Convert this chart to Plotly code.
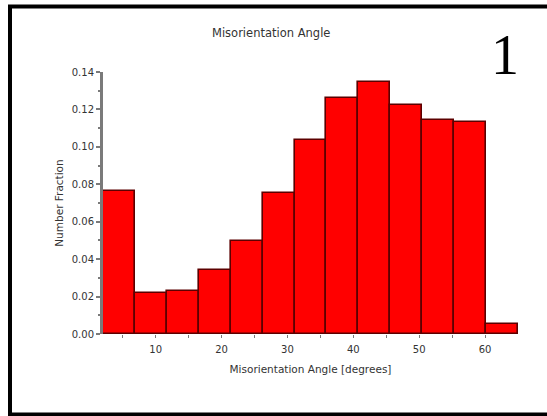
import plotly.graph_objects as go

# Histogram of grain-boundary misorientation angles: 13 bins from 2 to 65 degrees
bin_start = 2.0
bin_end = 65.0
n_bins = 13
number_fraction = [0.0765, 0.0217, 0.0231, 0.0342, 0.0496, 0.0751, 0.1035,
                   0.1263, 0.1345, 0.1224, 0.1142, 0.1131, 0.0052]
x_ticks = [10, 20, 30, 40, 50, 60]
y_ticks = [0.00, 0.02, 0.04, 0.06, 0.08, 0.10, 0.12, 0.14]

bin_width = (bin_end - bin_start) / n_bins
bin_centers = [bin_start + bin_width * (i + 0.5) for i in range(n_bins)]

W, H = 547, 416
L, R, T, B = 103, 29, 72, 82
plot_w = W - L - R
plot_h = H - T - B


def px(xp):
    return (xp - L) / plot_w


def py(yp):
    return (H - B - yp) / plot_h


font_family = "DejaVu Sans, Verdana, sans-serif"
axis_grey = "#7a7a7a"
text_grey = "#333333"

fig = go.Figure()
fig.add_trace(go.Bar(
    x=bin_centers,
    y=number_fraction,
    width=bin_width,
    marker=dict(color="#ff0000", line=dict(color="#5c0000", width=1.6)),
    hoverinfo="x+y",
))

fig.update_layout(
    width=W, height=H,
    margin=dict(l=L, r=R, t=T, b=B),
    paper_bgcolor="white",
    plot_bgcolor="rgba(0,0,0,0)",
    showlegend=False,
    bargap=0,
    font=dict(family=font_family, size=10, color=text_grey),
    xaxis=dict(
        range=[bin_start, bin_end],
        tickvals=x_ticks,
        ticks="outside", ticklen=3, tickwidth=1, tickcolor=axis_grey,
        minor=dict(tickvals=[5, 15, 25, 35, 45, 55], ticks="outside",
                   ticklen=3, tickwidth=1, tickcolor=axis_grey),
        showgrid=False, zeroline=False,
        showline=False,
        ticklabelstandoff=3,
        tickfont=dict(size=10, color=text_grey),
        title=dict(text="Misorientation Angle [degrees]",
                   font=dict(size=10.5, color=text_grey), standoff=11),
    ),
    yaxis=dict(
        range=[0, 0.14],
        tickvals=y_ticks,
        tickformat=".2f",
        ticks="outside", ticklen=4, tickwidth=1.5, tickcolor=axis_grey,
        minor=dict(dtick=0.01, ticks="outside", ticklen=2, tickwidth=1.5,
                   tickcolor=axis_grey),
        showgrid=False, zeroline=False,
        showline=True, linecolor=axis_grey, linewidth=3,
        tickfont=dict(size=10, color=text_grey),
        title=dict(text="Number Fraction",
                   font=dict(size=10.5, color=text_grey), standoff=7),
    ),
    shapes=[
        # outer frame (runs off the right edge)
        dict(type="rect", xref="paper", yref="paper",
             x0=px(10), x1=px(600), y0=py(414.5), y1=py(6.5),
             line=dict(color="black", width=4), fillcolor="rgba(0,0,0,0)",
             layer="below"),
    ],
    annotations=[
        dict(text="Misorientation Angle", xref="paper", yref="paper",
             x=px(271), y=py(33), showarrow=False,
             font=dict(size=11.5, color=text_grey, family=font_family),
             xanchor="center", yanchor="middle"),
        dict(text="1", xref="paper", yref="paper",
             x=px(505), y=py(55), showarrow=False,
             font=dict(size=56, color="black",
                       family="Liberation Serif, Times New Roman, serif"),
             xanchor="center", yanchor="middle"),
    ],
)

fig.write_html("out.html")
